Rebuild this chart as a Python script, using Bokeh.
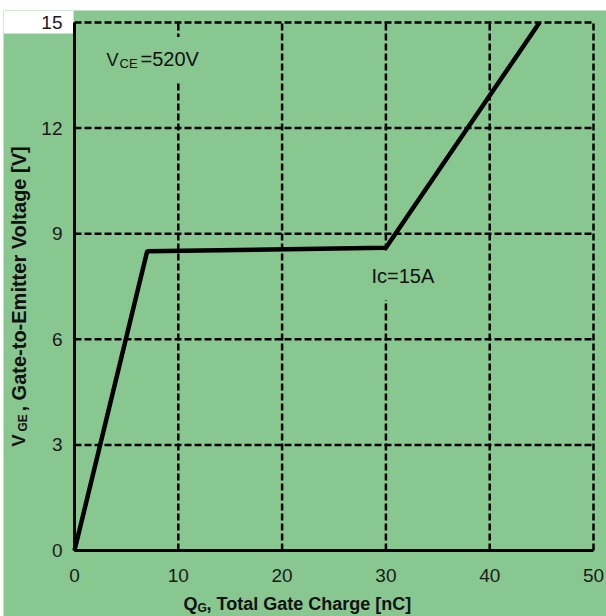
import math
from bokeh.plotting import figure
from bokeh.models import Range1d, FixedTicker, Label, BoxAnnotation
from bokeh.embed import file_html
from bokeh.resources import INLINE

# ---- data ----
qg_nc = [0, 7, 30, 44.8]
vge_v = [0, 8.5, 8.6, 15]
x_ticks = [0, 10, 20, 30, 40, 50]
y_ticks = [0, 3, 6, 9, 12, 15]

BG = "#88C78F"
FONT = "Liberation Sans"

# page geometry of the chart box (pixels) -> ranges for a frame filling the canvas
W, H = 606, 616
FL, FT = 3, 10                 # frame starts here (white strip above/left)
BOX_L, BOX_R, BOX_T, BOX_B = 74, 593, 22, 550
sx = (BOX_R - BOX_L) / (x_ticks[-1] - x_ticks[0])
sy = (BOX_B - BOX_T) / (y_ticks[-1] - y_ticks[0])
x_rng = Range1d(x_ticks[0] - (BOX_L - FL) / sx, x_ticks[-1] + (W - BOX_R) / sx)
y_rng = Range1d(y_ticks[0] - (H - BOX_B) / sy, y_ticks[-1] + (BOX_T - FT) / sy)

p = figure(width=W, height=H, output_backend="svg", toolbar_location=None,
           x_range=x_rng, y_range=y_rng,
           min_border_left=FL, min_border_right=0, min_border_top=FT, min_border_bottom=0)
p.background_fill_color = BG
p.border_fill_color = "white"
p.outline_line_color = None
p.grid.visible = False

# page-pixel -> data helpers for text placement
def dx(px):
    return (px - BOX_L) / sx

def dy(py):
    return (BOX_B - py) / sy

# white notch at the top-left corner of the scanned original
p.add_layout(BoxAnnotation(left=dx(FL), right=dx(73), top=dy(FT), bottom=dy(33),
                           fill_color="white", fill_alpha=1.0, line_color=None, level="underlay"))

# dashed grid lines (including top and right border) from the tick lists
p.segment(x0=x_ticks, y0=[y_ticks[0]] * len(x_ticks), x1=x_ticks, y1=[y_ticks[-1]] * len(x_ticks),
          line_color="black", line_width=2.5, line_dash="7 3", level="underlay")
p.segment(x0=[x_ticks[0]] * len(y_ticks), y0=y_ticks, x1=[x_ticks[-1]] * len(y_ticks), y1=y_ticks,
          line_color="black", line_width=2.5, line_dash="7 3", level="underlay")

for ax in (p.xaxis[0], p.yaxis[0]):
    ax.fixed_location = 0
    ax.axis_line_width = 3
    ax.axis_line_color = "black"
    ax.major_tick_line_color = None
    ax.minor_tick_line_color = None
    ax.major_tick_out = 0
    ax.major_tick_in = 0
    ax.major_label_text_font = FONT
    ax.major_label_text_font_size = "19px"
    ax.major_label_text_color = "#1a1a1a"
p.xaxis.bounds = (x_ticks[0], x_ticks[-1])
p.yaxis.bounds = (y_ticks[0], y_ticks[-1])
p.xaxis.ticker = FixedTicker(ticks=x_ticks)
p.yaxis.ticker = FixedTicker(ticks=y_ticks)
p.xaxis.major_label_standoff = 18
p.yaxis.major_label_standoff = 12

p.line(qg_nc, vge_v, line_color="black", line_width=4.5)

SHIFT = 0.37  # baseline correction (em) observed for Bokeh's alphabetic anchor

def lab(px, py, text, size, bold=False, rotated=False, bg=None, pad=0):
    kw = {}
    if bg is not None:
        kw = dict(background_fill_color=bg, padding=pad)
    if rotated:
        px = px - SHIFT * size
        py = py + pad
        angle = math.pi / 2
    else:
        py = py - SHIFT * size
        px = px - pad
        angle = 0.0
    p.add_layout(Label(x=dx(px), y=dy(py), text=text, text_font=FONT,
                       text_font_size=f"{size}px",
                       text_font_style="bold" if bold else "normal",
                       text_color="#111111", text_align="left",
                       text_baseline="alphabetic", angle=angle, angle_units="rad", **kw))

# annotations inside the plot (with a background that breaks the grid lines)
lab(140, 66, "=520V", 20, bg=BG, pad=11)
lab(106, 66, "V", 18)
lab(119, 68, "CE", 13)
lab(371, 283, "Ic=15A", 20, bg=BG, pad=13)

# x axis title
lab(183, 610, "Q", 18, bold=True)
lab(197, 612, "G", 12, bold=True)
lab(206, 610, ", Total Gate Charge [nC]", 18, bold=True)

# y axis title (rotated)
lab(25.5, 446, "V", 18, bold=True, rotated=True)
lab(26.5, 431, "GE", 12, bold=True, rotated=True)
lab(25.5, 411, ", Gate-to-Emitter Voltage [V]", 20, bold=True, rotated=True)

open("out.html", "w").write(file_html(p, INLINE))
